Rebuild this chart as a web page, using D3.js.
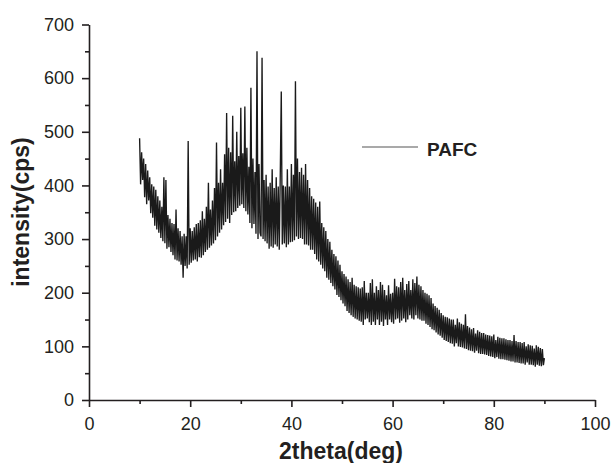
<!DOCTYPE html>
<html>
<head>
<meta charset="utf-8">
<script src="https://cdn.jsdelivr.net/npm/d3@7"></script>
<style>
  html, body { margin: 0; padding: 0; background: #fff; }
  svg { display: block; }
  .tick text { font-family: "Liberation Sans", Arial, sans-serif; font-size: 18px; fill: #231f20; }
  .domain, .tick line { stroke: #231f20; stroke-width: 1.6; }
</style>
</head>
<body>
<svg id="chart" width="613" height="463"></svg>
<script>
// ---- data ----
const angleStart = 10, angleStep = 0.2;            // 2theta sampling, deg
const intensity = [                                  // cps, one row per degree (5 samples)
  488, 402, 462, 410, 450,
  378, 440, 365, 428, 372,
  415, 348, 402, 340, 398,
  325, 392, 318, 380, 312,
  372, 302, 360, 296, 415,
  292, 410, 282, 345, 285,
  338, 276, 330, 270, 328,
  262, 355, 260, 320, 258,
  315, 252, 305, 228, 310,
  250, 305, 245, 483, 252,
  320, 256, 315, 260, 322,
  262, 328, 258, 330, 266,
  335, 265, 352, 270, 338,
  276, 360, 280, 405, 284,
  355, 288, 372, 292, 395,
  298, 480, 305, 405, 312,
  430, 318, 405, 326, 458,
  332, 535, 338, 470, 330,
  462, 345, 530, 350, 445,
  352, 500, 358, 455, 362,
  545, 365, 460, 358, 547,
  352, 470, 346, 435, 330,
  582, 320, 450, 328, 425,
  310, 650, 300, 440, 312,
  305, 638, 300, 410, 296,
  420, 292, 398, 282, 405,
  286, 430, 284, 395, 290,
  415, 286, 398, 280, 420,
  575, 290, 400, 292, 398,
  285, 430, 290, 398, 294,
  440, 295, 420, 298, 594,
  305, 450, 300, 425, 302,
  433, 300, 420, 290, 440,
  290, 410, 288, 395, 280,
  380, 280, 375, 272, 368,
  262, 360, 258, 370, 252,
  330, 245, 322, 240, 315,
  228, 300, 224, 295, 218,
  280, 212, 272, 206, 268,
  196, 260, 192, 252, 186,
  240, 180, 235, 175, 230,
  166, 225, 162, 220, 158,
  228, 155, 215, 152, 212,
  150, 210, 148, 208, 146,
  210, 140, 222, 150, 200,
  152, 200, 145, 218, 140,
  225, 146, 200, 140, 212,
  150, 205, 140, 220, 146,
  215, 138, 205, 150, 195,
  140, 214, 150, 198, 145,
  200, 142, 226, 150, 212,
  152, 210, 144, 220, 148,
  228, 152, 205, 145, 216,
  150, 222, 158, 205, 152,
  225, 150, 218, 158, 230,
  152, 215, 150, 212, 148,
  205, 148, 200, 142, 198,
  140, 195, 136, 190, 132,
  180, 130, 175, 126, 172,
  122, 168, 120, 162, 116,
  158, 112, 155, 110, 154,
  108, 152, 106, 150, 105,
  150, 100, 140, 106, 152,
  100, 145, 99, 142, 98,
  140, 96, 160, 95, 138,
  93, 135, 92, 132, 91,
  134, 88, 124, 92, 130,
  87, 127, 86, 125, 86,
  125, 85, 122, 84, 121,
  82, 120, 81, 119, 80,
  122, 78, 112, 80, 118,
  77, 116, 76, 115, 76,
  115, 75, 113, 74, 112,
  73, 112, 72, 110, 72,
  121, 70, 110, 70, 108,
  69, 108, 68, 106, 68,
  108, 66, 100, 70, 104,
  66, 102, 66, 101, 65,
  96, 62, 102, 66, 99,
  64, 97, 63, 95, 65,
  78
];
const xTicks = [0, 20, 40, 60, 80, 100];
const xMinorTicks = [10, 30, 50, 70, 90];
const yTicks = [0, 100, 200, 300, 400, 500, 600, 700];
const yMinorTicks = [50, 150, 250, 350, 450, 550, 650];
const seriesName = "PAFC";
const xLabel = "2theta(deg)";
const yLabel = "intensity(cps)";

const data = intensity.map((v, i) => ({ x: angleStart + i * angleStep, y: v }));

// ---- layout ----
const svg = d3.select("#chart");
const x = d3.scaleLinear().domain([0, 100]).range([89, 595]);
const y = d3.scaleLinear().domain([0, 700]).range([400, 24.5]);
const font = '"Liberation Sans", Arial, sans-serif';
const ink = "#231f20";

// minor ticks
svg.append("g").attr("transform", "translate(0,400)")
  .call(d3.axisBottom(x).tickValues(xMinorTicks).tickSize(4).tickFormat(""))
  .call(g => g.select(".domain").remove());
svg.append("g").attr("transform", "translate(89,0)")
  .call(d3.axisLeft(y).tickValues(yMinorTicks).tickSize(4).tickFormat(""))
  .call(g => g.select(".domain").remove());

// major axes
svg.append("g").attr("transform", "translate(0,400)")
  .call(d3.axisBottom(x).tickValues(xTicks).tickSize(7).tickSizeOuter(0).tickPadding(10).tickFormat(d3.format("d")));
svg.append("g").attr("transform", "translate(89,0)")
  .call(d3.axisLeft(y).tickValues(yTicks).tickSize(7).tickSizeOuter(0).tickPadding(8).tickFormat(d3.format("d")));

// series
const line = d3.line().x(d => x(d.x)).y(d => y(d.y));
svg.append("path").datum(data)
  .attr("d", line)
  .attr("fill", "none")
  .attr("stroke", "#1a1a1a")
  .attr("stroke-width", 1.35)
  .attr("stroke-linejoin", "miter");

// legend
svg.append("line").attr("x1", 362).attr("x2", 418).attr("y1", 147).attr("y2", 147)
  .attr("stroke", "#555").attr("stroke-width", 1.2);
svg.append("text").attr("x", 427).attr("y", 155.5)
  .attr("font-family", font).attr("font-weight", "bold").attr("font-size", 19)
  .attr("fill", ink).text(seriesName);

// axis titles
svg.append("text").attr("x", 341).attr("y", 459).attr("text-anchor", "middle")
  .attr("font-family", font).attr("font-weight", "bold").attr("font-size", 23)
  .attr("fill", ink).text(xLabel);
svg.append("text").attr("transform", "translate(29,212) rotate(-90)").attr("text-anchor", "middle")
  .attr("font-family", font).attr("font-weight", "bold").attr("font-size", 23)
  .attr("fill", ink).text(yLabel);
</script>
</body>
</html>
